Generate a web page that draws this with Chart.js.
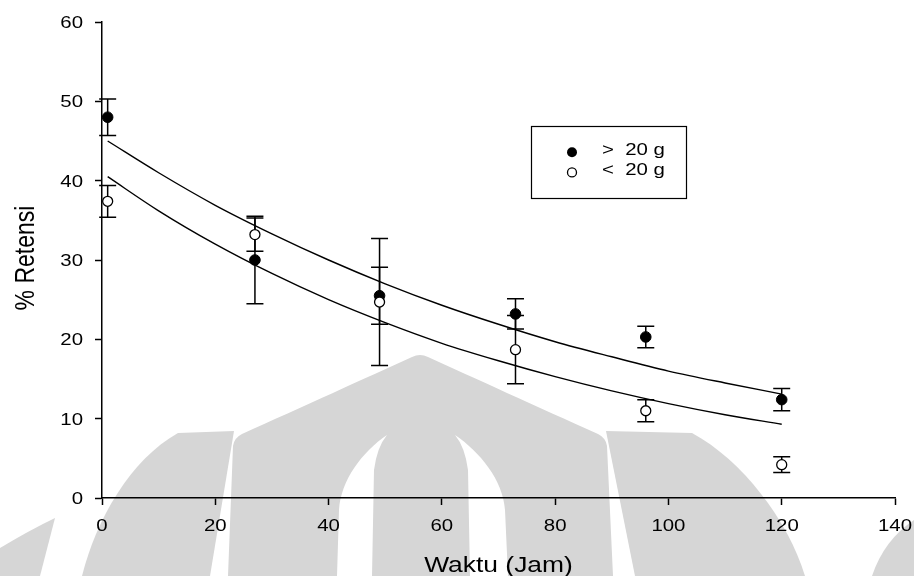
<!DOCTYPE html>
<html>
<head>
<meta charset="utf-8">
<script src="https://cdn.jsdelivr.net/npm/chart.js@4.4.1/dist/chart.umd.min.js"></script>
<style>
  html, body { margin: 0; padding: 0; background: #fff; }
  #wrap { width: 914px; height: 576px; position: relative; }
</style>
</head>
<body>
<div id="wrap"><canvas id="retensi-chart"></canvas></div>
<script>
// sampling times (jam)
const waktu = [1, 27, 49, 73, 96, 120];

// % retensi, > 20 g and < 20 g, with their error bars (+/-)
const besar = [48.0, 30.0, 25.5, 23.2, 20.3, 12.4];
const besarErr = [2.3, 5.5, 3.6, 1.9, 1.35, 1.4];
const kecil = [37.4, 33.2, 24.7, 18.7, 11.0, 4.2];
const kecilErr = [2.0, 2.1, 8.0, 4.3, 1.4, 1.0];

// fitted curves
const fitX = [1, 10, 20, 30, 40, 50, 60, 70, 80, 90, 100, 110, 120];
const fitBesar = [45.0, 41.0, 36.9, 33.3, 30.0, 27.0, 24.3, 21.9, 19.7, 17.8, 16.0, 14.5, 13.1];
const fitKecil = [40.5, 36.2, 32.0, 28.3, 25.0, 22.1, 19.5, 17.3, 15.3, 13.5, 11.9, 10.5, 9.3];

const seriesLabels = ['>  20 g', '<  20 g'];
const xTicks = [0, 20, 40, 60, 80, 100, 120, 140];
const yTicks = [0, 10, 20, 30, 40, 50, 60];
const xTitle = 'Waktu (Jam)';
const yTitle = '% Retensi';

const FONT = '"Liberation Sans", Arial, sans-serif';
const STRETCH = 1.2;

function pts(xv, yv) {
    return xv.map(function (x, i) { return { x: x, y: yv[i] }; });
}

// grey watermark in the background
const watermark = {
    id: 'watermark',
    beforeDraw: function (chart) {
        const c = chart.ctx;
        c.save();
        c.fillStyle = '#fff';
        c.fillRect(0, 0, chart.width, chart.height);
        c.fillStyle = '#d6d6d6';
        // central dome
        c.beginPath();
        c.moveTo(228, 576);
        c.lineTo(233, 446);
        c.quadraticCurveTo(234, 438, 242, 434);
        c.bezierCurveTo(300, 408, 370, 376, 412, 357);
        c.quadraticCurveTo(420, 353, 428, 357);
        c.bezierCurveTo(470, 376, 540, 408, 598, 434);
        c.quadraticCurveTo(606, 438, 607, 446);
        c.lineTo(613, 576);
        c.closePath();
        c.fill();
        // left lobe
        c.beginPath();
        c.moveTo(234, 431);
        c.lineTo(178, 433);
        c.bezierCurveTo(130, 460, 96, 520, 82, 576);
        c.lineTo(210, 576);
        c.closePath();
        c.fill();
        // right lobe
        c.beginPath();
        c.moveTo(606, 431);
        c.lineTo(692, 433);
        c.bezierCurveTo(742, 460, 788, 520, 805, 576);
        c.lineTo(635, 576);
        c.closePath();
        c.fill();
        // far edges
        c.beginPath();
        c.moveTo(0, 548);
        c.quadraticCurveTo(30, 530, 55, 518);
        c.lineTo(40, 576);
        c.lineTo(0, 576);
        c.closePath();
        c.fill();
        c.beginPath();
        c.moveTo(872, 576);
        c.quadraticCurveTo(884, 540, 914, 520);
        c.lineTo(914, 576);
        c.closePath();
        c.fill();
        // white inner arches
        c.fillStyle = '#fff';
        c.beginPath();
        c.moveTo(387, 435);
        c.bezierCurveTo(362, 452, 341, 480, 339, 510);
        c.lineTo(337, 576);
        c.lineTo(372, 576);
        c.lineTo(374, 470);
        c.quadraticCurveTo(377, 447, 387, 435);
        c.closePath();
        c.fill();
        c.beginPath();
        c.moveTo(455, 435);
        c.bezierCurveTo(480, 452, 503, 480, 505, 510);
        c.lineTo(508, 576);
        c.lineTo(470, 576);
        c.lineTo(468, 470);
        c.quadraticCurveTo(465, 447, 455, 435);
        c.closePath();
        c.fill();
        c.restore();
    }
};

// vertical error bars with caps
const errorBars = {
    id: 'errorBars',
    beforeDatasetsDraw: function (chart) {
        const c = chart.ctx;
        const xs = chart.scales.x, ys = chart.scales.y;
        c.save();
        c.strokeStyle = '#000';
        c.lineWidth = 1.5;
        [[besar, besarErr], [kecil, kecilErr]].forEach(function (s) {
            waktu.forEach(function (t, i) {
                const px = xs.getPixelForValue(t);
                const top = ys.getPixelForValue(s[0][i] + s[1][i]);
                const bot = ys.getPixelForValue(s[0][i] - s[1][i]);
                c.beginPath();
                c.moveTo(px, top); c.lineTo(px, bot);
                c.moveTo(px - 8.5, top); c.lineTo(px + 8.5, top);
                c.moveTo(px - 8.5, bot); c.lineTo(px + 8.5, bot);
                c.stroke();
            });
        });
        c.restore();
    }
};

function stretchedText(c, txt, x, y, size, align) {
    c.save();
    c.font = size + 'px ' + FONT;
    c.textAlign = align;
    c.textBaseline = 'alphabetic';
    c.translate(x, y);
    c.scale(STRETCH, 1);
    c.fillText(txt, 0, 0);
    c.restore();
}

// tick labels, axis titles and legend box
const labels = {
    id: 'labels',
    afterDraw: function (chart) {
        const c = chart.ctx;
        const xs = chart.scales.x, ys = chart.scales.y;
        const area = chart.chartArea;
        c.save();
        c.fillStyle = '#000';
        xTicks.forEach(function (v) {
            stretchedText(c, String(v), xs.getPixelForValue(v), 531, 17, 'center');
        });
        yTicks.forEach(function (v) {
            stretchedText(c, String(v), 83, ys.getPixelForValue(v) + 6, 17, 'right');
        });
        stretchedText(c, xTitle, (area.left + area.right) / 2, 572, 22, 'center');

        c.save();
        c.font = '23px ' + FONT;
        c.textAlign = 'center';
        c.textBaseline = 'alphabetic';
        c.translate(33.5, (area.top + area.bottom) / 2 - 2);
        c.scale(STRETCH, 1);
        c.rotate(-Math.PI / 2);
        c.fillText(yTitle, 0, 0);
        c.restore();

        // legend
        c.strokeStyle = '#000';
        c.lineWidth = 1.2;
        c.strokeRect(531.5, 126.5, 155, 72);
        c.beginPath();
        c.arc(572, 152.3, 5, 0, Math.PI * 2);
        c.fill();
        c.beginPath();
        c.arc(572, 172.4, 4.5, 0, Math.PI * 2);
        c.fillStyle = '#fff';
        c.fill();
        c.lineWidth = 1.3;
        c.stroke();
        c.fillStyle = '#000';
        stretchedText(c, seriesLabels[0], 602, 154.5, 17, 'left');
        stretchedText(c, seriesLabels[1], 602, 175, 17, 'left');
        c.restore();
    }
};

const axisLook = {
    grid: {
        display: true,
        drawOnChartArea: false,
        drawTicks: true,
        tickLength: 7,
        tickColor: '#000',
        tickWidth: 1.5
    },
    border: { display: true, color: '#000', width: 1.5 },
    ticks: { display: false },
    title: { display: false }
};

new Chart(document.getElementById('retensi-chart').getContext('2d'), {
    type: 'scatter',
    data: {
        datasets: [{
            label: seriesLabels[1],
            data: pts(waktu, kecil),
            pointRadius: 5,
            pointBackgroundColor: '#fff',
            pointBorderColor: '#000',
            pointBorderWidth: 1.3,
            order: 1
        }, {
            label: seriesLabels[0],
            data: pts(waktu, besar),
            pointRadius: 5.3,
            pointBackgroundColor: '#000',
            pointBorderColor: '#000',
            pointBorderWidth: 1,
            order: 2
        }, {
            label: 'fit > 20 g',
            data: pts(fitX, fitBesar),
            showLine: true,
            pointRadius: 0,
            borderColor: '#000',
            borderWidth: 1.4,
            cubicInterpolationMode: 'monotone',
            order: 3
        }, {
            label: 'fit < 20 g',
            data: pts(fitX, fitKecil),
            showLine: true,
            pointRadius: 0,
            borderColor: '#000',
            borderWidth: 1.4,
            cubicInterpolationMode: 'monotone',
            order: 3
        }]
    },
    options: {
        responsive: true,
        maintainAspectRatio: false,
        animation: false,
        layout: { padding: { left: 95, right: 19, top: 22, bottom: 71 } },
        plugins: {
            legend: { display: false },
            tooltip: { enabled: false }
        },
        scales: {
            x: Object.assign({ type: 'linear', min: 0, max: 140 }, axisLook),
            y: Object.assign({ type: 'linear', min: 0, max: 60 }, axisLook)
        }
    },
    plugins: [watermark, errorBars, labels]
});
</script>
</body>
</html>
